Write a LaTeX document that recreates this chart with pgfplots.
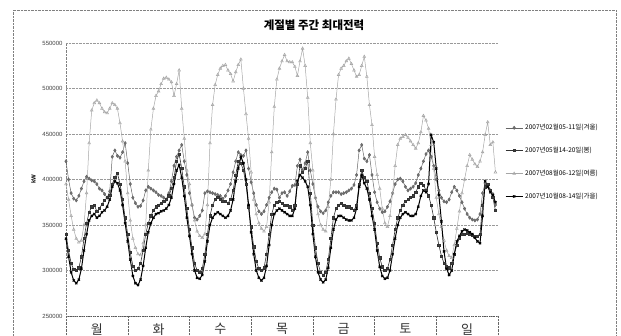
\documentclass[border=0pt]{standalone}
\usepackage{fontspec}
\setmainfont{Liberation Sans}
\newfontfamily\kr{Noto Sans CJK KR}
\usepackage{pgfplots}
\pgfplotsset{compat=1.18}
\usepackage{pgfplotstable}

% winter 2007-02-05..11
\pgfplotstableread[row sep=\\]{v\\
420000\\400000\\385000\\379000\\377000\\382000\\390000\\398000\\403000\\401000\\399000\\398000\\395000\\390000\\388000\\384000\\380000\\387000\\425000\\432000\\426000\\424000\\430000\\440000\\
418000\\395000\\380000\\374000\\370000\\371000\\377000\\388000\\392000\\390000\\388000\\386000\\383000\\382000\\380000\\378000\\385000\\398000\\415000\\425000\\432000\\438000\\420000\\405000\\
385000\\372000\\358000\\356000\\360000\\366000\\385000\\387000\\386000\\385000\\384000\\383000\\382000\\379000\\382000\\388000\\395000\\408000\\420000\\430000\\427000\\426000\\432000\\412000\\
397000\\385000\\372000\\365000\\362000\\365000\\372000\\380000\\386000\\390000\\389000\\380000\\385000\\386000\\382000\\387000\\393000\\394000\\415000\\422000\\410000\\418000\\430000\\410000\\
395000\\380000\\370000\\365000\\363000\\366000\\375000\\382000\\386000\\386000\\386000\\384000\\385000\\386000\\388000\\390000\\394000\\405000\\432000\\438000\\423000\\420000\\427000\\405000\\
386000\\375000\\368000\\364000\\365000\\370000\\376000\\385000\\395000\\400000\\401000\\398000\\392000\\388000\\390000\\392000\\396000\\405000\\412000\\420000\\428000\\432000\\425000\\415000\\
400000\\388000\\380000\\376000\\375000\\378000\\386000\\392000\\388000\\382000\\375000\\368000\\362000\\358000\\356000\\355000\\356000\\362000\\385000\\396000\\394000\\388000\\384000\\372000\\
}\winter

% spring 2007-05-14..20
\pgfplotstableread[row sep=\\]{v\\
340000\\322000\\308000\\301000\\300000\\303000\\315000\\335000\\352000\\364000\\370000\\372000\\365000\\368000\\373000\\377000\\380000\\383000\\395000\\402000\\407000\\395000\\378000\\358000\\
340000\\320000\\305000\\300000\\302000\\308000\\322000\\340000\\352000\\360000\\366000\\370000\\372000\\374000\\376000\\378000\\382000\\390000\\402000\\420000\\428000\\412000\\392000\\368000\\
345000\\325000\\308000\\300000\\298000\\302000\\318000\\340000\\360000\\372000\\378000\\380000\\378000\\376000\\376000\\374000\\378000\\388000\\405000\\420000\\418000\\410000\\395000\\370000\\
348000\\326000\\310000\\302000\\300000\\303000\\318000\\340000\\362000\\372000\\375000\\376000\\374000\\372000\\372000\\370000\\366000\\372000\\395000\\415000\\408000\\412000\\420000\\385000\\
350000\\325000\\308000\\298000\\295000\\298000\\312000\\335000\\358000\\368000\\372000\\374000\\372000\\370000\\370000\\368000\\366000\\372000\\395000\\410000\\402000\\398000\\385000\\368000\\
352000\\330000\\314000\\304000\\300000\\302000\\312000\\328000\\345000\\358000\\366000\\372000\\376000\\378000\\380000\\382000\\386000\\392000\\396000\\394000\\388000\\382000\\372000\\358000\\
342000\\328000\\316000\\308000\\304000\\303000\\308000\\318000\\328000\\336000\\340000\\340000\\341000\\340000\\339000\\338000\\338000\\340000\\372000\\392000\\395000\\388000\\380000\\366000\\
}\spring

% summer 2007-08-06..12
\pgfplotstableread[row sep=\\]{v\\
395000\\378000\\360000\\345000\\335000\\331000\\333000\\350000\\385000\\440000\\476000\\484000\\487000\\484000\\478000\\474000\\473000\\478000\\484000\\482000\\478000\\462000\\442000\\420000\\
385000\\355000\\335000\\325000\\318000\\317000\\330000\\350000\\410000\\455000\\478000\\492000\\497000\\505000\\511000\\512000\\510000\\507000\\492000\\505000\\520000\\478000\\445000\\410000\\
395000\\372000\\355000\\343000\\338000\\336000\\340000\\372000\\440000\\482000\\504000\\515000\\522000\\525000\\526000\\520000\\516000\\508000\\518000\\526000\\532000\\500000\\472000\\445000\\
408000\\378000\\362000\\352000\\346000\\343000\\348000\\375000\\430000\\480000\\510000\\522000\\530000\\537000\\530000\\529000\\529000\\524000\\514000\\530000\\544000\\525000\\490000\\440000\\
410000\\380000\\362000\\350000\\345000\\343000\\370000\\400000\\450000\\488000\\515000\\522000\\525000\\530000\\533000\\527000\\520000\\513000\\515000\\525000\\535000\\513000\\482000\\460000\\
425000\\405000\\390000\\368000\\352000\\348000\\360000\\385000\\415000\\438000\\445000\\447000\\449000\\446000\\442000\\438000\\434000\\440000\\452000\\470000\\465000\\456000\\438000\\412000\\
380000\\362000\\348000\\333000\\322000\\316000\\314000\\328000\\346000\\365000\\385000\\400000\\415000\\427000\\422000\\417000\\414000\\420000\\430000\\449000\\463000\\438000\\441000\\408000\\
}\summer

% autumn 2007-10-08..14
\pgfplotstableread[row sep=\\]{v\\
335000\\315000\\298000\\289000\\286000\\290000\\302000\\322000\\340000\\355000\\360000\\362000\\358000\\360000\\364000\\366000\\370000\\378000\\392000\\398000\\396000\\388000\\372000\\352000\\
332000\\312000\\294000\\286000\\284000\\290000\\305000\\325000\\342000\\352000\\358000\\362000\\363000\\365000\\366000\\368000\\372000\\380000\\395000\\410000\\416000\\402000\\382000\\358000\\
338000\\318000\\300000\\292000\\291000\\295000\\310000\\332000\\350000\\358000\\362000\\364000\\362000\\360000\\358000\\360000\\366000\\378000\\398000\\412000\\425000\\418000\\400000\\372000\\
342000\\318000\\300000\\292000\\289000\\292000\\305000\\328000\\350000\\362000\\366000\\368000\\366000\\364000\\362000\\360000\\360000\\368000\\398000\\405000\\402000\\398000\\392000\\372000\\
340000\\315000\\298000\\290000\\287000\\290000\\303000\\325000\\345000\\356000\\360000\\360000\\358000\\356000\\355000\\355000\\358000\\368000\\392000\\405000\\396000\\390000\\378000\\360000\\
345000\\322000\\304000\\294000\\291000\\292000\\300000\\318000\\335000\\350000\\358000\\362000\\364000\\362000\\360000\\360000\\362000\\370000\\382000\\388000\\386000\\395000\\449000\\441000\\
412000\\383000\\354000\\321000\\302000\\295000\\300000\\318000\\332000\\338000\\343000\\345000\\344000\\342000\\340000\\336000\\332000\\330000\\360000\\398000\\392000\\386000\\383000\\375000\\
}\autumn

\begin{document}
\begin{tikzpicture}
\useasboundingbox (0,0) rectangle (621pt,336pt);
\draw[black!50, densely dotted] (13pt,-5pt) rectangle (616pt,326pt);
\node[font=\kr\bfseries\fontsize{11.5}{12}\selectfont] at (314pt,311pt) {계절별 주간 최대전력};
\begin{axis}[
  at={(66pt,20pt)}, anchor=south west,
  scale only axis, width=432pt, height=273pt,
  xmin=0, xmax=168, ymin=250000, ymax=550000,
  ytick={250000,300000,350000,400000,450000,500000,550000},
  scaled y ticks=false,
  /pgf/number format/assume math mode=true,
  yticklabel style={/pgf/number format/fixed, /pgf/number format/1000 sep={}, font=\fontsize{6}{6}\selectfont, text=black!75},
  ymajorgrids, grid style={black!40, densely dotted, line width=0.5pt},
  xtick={12,36,60,84,108,132,156},
  xticklabels={월,화,수,목,금,토,일},
  xticklabel style={font=\kr\fontsize{13}{13}\selectfont, text=black!80, yshift=-4pt},
  major tick length=0pt,
  axis line style={draw=none},
  clip=false,
  ylabel={kW},
  ylabel style={font=\fontsize{6}{6}\selectfont\bfseries},
  legend style={at={(1.016,0.71)}, anchor=north west, draw=none, fill=none,
    font=\kr\fontsize{6.5}{7}\selectfont, row sep=12pt, inner sep=0pt},
  legend cell align=left,
]
\draw[black!50, densely dotted] (rel axis cs:0,0) -- (rel axis cs:0,1);
\draw[black!65, line width=0.8pt, densely dotted] (axis cs:0,250000) -- (axis cs:168,250000);
\pgfplotsinvokeforeach{0,24,48,72,96,120,144,168}{
  \draw[black!60, densely dotted] (axis cs:#1,250000) -- ([yshift=-24pt]axis cs:#1,250000);
}
\addplot[black!60, line width=0.5pt, mark=diamond*, mark size=1.6pt, mark options={fill=black!55}]
  table[x expr=\coordindex, y=v] {\winter};
\addlegendentry{2007년02월05-11일(겨울)}
\addplot[black!80, line width=0.6pt, mark=square*, mark size=1.1pt, mark options={fill=black!75}]
  table[x expr=\coordindex, y=v] {\spring};
\addlegendentry{2007년05월14-20일(봄)}
\addplot[black!35, line width=0.5pt, mark=triangle, mark size=1.6pt]
  table[x expr=\coordindex, y=v] {\summer};
\addlegendentry{2007년08월06-12일(여름)}
\addplot[black, line width=1pt, mark=x, mark size=1.5pt]
  table[x expr=\coordindex, y=v] {\autumn};
\addlegendentry{2007년10월08-14일(가을)}
\end{axis}
\end{tikzpicture}
\end{document}
